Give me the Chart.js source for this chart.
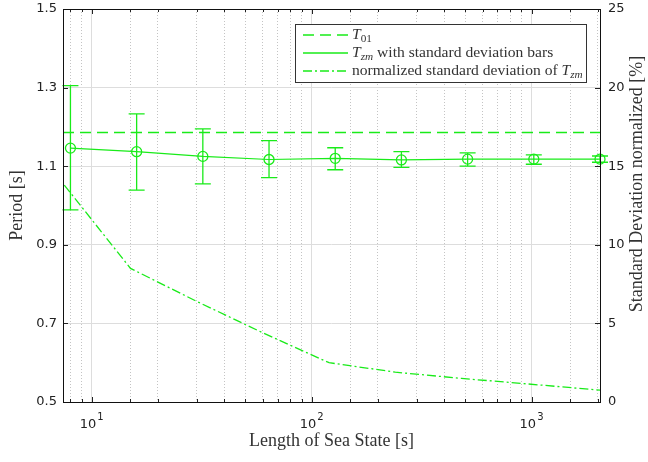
<!DOCTYPE html>
<html>
<head>
<meta charset="utf-8">
<script src="https://cdn.jsdelivr.net/npm/chart.js@4.4.0/dist/chart.umd.min.js"></script>
<style>
    html, body { margin: 0; padding: 0; background: #fff; }
</style>
</head>
<body>
<canvas id="grafico" width="648" height="462"></canvas>
<script>
// Window lengths (x) and the statistics
const lengths = [8, 16, 32, 64, 128, 256, 512, 1024, 2048];
const tzmMean = [1.146, 1.137, 1.125, 1.117, 1.120, 1.116, 1.118, 1.118, 1.118];
const tzmUpper = [1.305, 1.233, 1.195, 1.165, 1.147, 1.137, 1.134, 1.129, 1.126];
const tzmLower = [0.989, 1.039, 1.055, 1.071, 1.091, 1.097, 1.100, 1.105, 1.110];
const stdLengths = [7.5, 15, 30, 60, 120, 240, 480, 960, 2048];
const stdNorm = [13.8, 8.5, 6.4, 4.4, 2.5, 1.9, 1.5, 1.15, 0.75];
const t01 = 1.186;
const xRange = [7.4, 2048];
const periodTicks = [0.5, 0.7, 0.9, 1.1, 1.3, 1.5];
const stdTicks = [0, 5, 10, 15, 20, 25];
const xTickExp = { 10: '1', 100: '2', 1000: '3' };

const verde = 'rgb(25, 235, 25)';
const serif = '"Liberation Serif", "Times New Roman", serif';
const sans = '"DejaVu Sans", sans-serif';

// Legend entries: pieces of rich text (italic / subscript)
const legenda = [
    { dash: [11, 6], parts: [{ t: 'T', it: true }, { t: '01', sub: true }] },
    { dash: [], parts: [{ t: 'T', it: true }, { t: 'zm', it: true, sub: true }, { t: ' with standard deviation bars' }] },
    { dash: [9, 3, 2, 3], parts: [{ t: 'normalized standard deviation of ' }, { t: 'T', it: true }, { t: 'zm', it: true, sub: true }] }
];

function desenharTexto(ctx, parts, x, y, size) {
    parts.forEach(p => {
        const s = p.sub ? size * 0.72 : size;
        ctx.font = (p.it ? 'italic ' : '') + s + 'px ' + serif;
        ctx.fillText(p.t, x, p.sub ? y + size * 0.25 : y);
        x += ctx.measureText(p.t).width;
    });
}

// no extra label overhang: the plot box is placed by the fixed axis sizes
function semPadding(s) {
    s.paddingTop = 0; s.paddingBottom = 0; s.paddingLeft = 0; s.paddingRight = 0;
}

const extras = {
    id: 'extras',
    afterDatasetsDraw(chart) {
        const { ctx, scales } = chart;
        const x = scales.x, y = scales.y;
        // error bars
        ctx.save();
        ctx.strokeStyle = verde;
        ctx.lineWidth = 1.3;
        lengths.forEach((len, i) => {
            const px = x.getPixelForValue(len);
            const top = y.getPixelForValue(tzmUpper[i]);
            const bot = y.getPixelForValue(tzmLower[i]);
            ctx.beginPath();
            ctx.moveTo(px, top); ctx.lineTo(px, bot);
            ctx.moveTo(px - 8, top); ctx.lineTo(px + 8, top);
            ctx.moveTo(px - 8, bot); ctx.lineTo(px + 8, bot);
            ctx.stroke();
        });
        ctx.restore();
    },
    afterDraw(chart) {
        const { ctx, chartArea: a, scales } = chart;
        ctx.save();
        // inward tick marks
        ctx.strokeStyle = '#222';
        ctx.lineWidth = 1;
        ctx.beginPath();
        scales.x.ticks.forEach(t => {
            if (t.value <= xRange[0] || t.value >= xRange[1]) return;
            const px = Math.round(scales.x.getPixelForValue(t.value)) + 0.5;
            const len = xTickExp[t.value] ? 5 : 3;
            ctx.moveTo(px, a.bottom); ctx.lineTo(px, a.bottom - len);
            ctx.moveTo(px, a.top); ctx.lineTo(px, a.top + len);
        });
        periodTicks.forEach(v => {
            const py = Math.round(scales.y.getPixelForValue(v)) + 0.5;
            ctx.moveTo(a.left, py); ctx.lineTo(a.left + 5, py);
        });
        stdTicks.forEach(v => {
            const py = Math.round(scales.y2.getPixelForValue(v)) + 0.5;
            ctx.moveTo(a.right, py); ctx.lineTo(a.right - 5, py);
        });
        ctx.stroke();
        // box
        ctx.strokeStyle = '#111';
        ctx.strokeRect(Math.round(a.left) + 0.5, Math.round(a.top) + 0.5,
            Math.round(a.right - a.left), Math.round(a.bottom - a.top));

        // x tick labels 10^n with a real superscript
        ctx.fillStyle = '#222';
        ctx.textBaseline = 'alphabetic';
        ctx.textAlign = 'left';
        Object.keys(xTickExp).forEach(v => {
            const px = scales.x.getPixelForValue(Number(v));
            ctx.font = '13px ' + sans;
            const wBase = ctx.measureText('10').width;
            ctx.font = '10px ' + sans;
            const wExp = ctx.measureText(xTickExp[v]).width;
            const x0 = px - (wBase + wExp + 1) / 2;
            ctx.font = '13px ' + sans;
            ctx.fillText('10', x0, a.bottom + 26);
            ctx.font = '10px ' + sans;
            ctx.fillText(xTickExp[v], x0 + wBase + 1, a.bottom + 18);
        });

        // right axis title (reads bottom to top)
        ctx.fillStyle = '#333';
        ctx.font = '18px ' + serif;
        ctx.textAlign = 'center';
        ctx.textBaseline = 'middle';
        ctx.translate(637, 184);
        ctx.rotate(-Math.PI / 2);
        ctx.fillText('Standard Deviation normalized [%]', 0, 0);
        ctx.setTransform(1, 0, 0, 1, 0, 0);

        // legend
        const lx = 295, ly = 24, lw = 291, lh = 58;
        ctx.fillStyle = '#fff';
        ctx.fillRect(lx, ly, lw, lh);
        ctx.strokeStyle = '#333';
        ctx.strokeRect(lx + 0.5, ly + 0.5, lw, lh);
        ctx.textAlign = 'left';
        ctx.textBaseline = 'middle';
        legenda.forEach((item, i) => {
            const ry = ly + 11 + i * 18;
            ctx.strokeStyle = verde;
            ctx.lineWidth = 1.4;
            ctx.setLineDash(item.dash);
            ctx.beginPath();
            ctx.moveTo(lx + 8, ry); ctx.lineTo(lx + 53, ry);
            ctx.stroke();
            ctx.setLineDash([]);
            ctx.fillStyle = '#333';
            desenharTexto(ctx, item.parts, lx + 57, ry, 15.6);
        });
        ctx.restore();
    }
};

const grafico = new Chart(document.getElementById('grafico').getContext('2d'), {
    type: 'line',
    data: {
        datasets: [
            {
                label: 'T01',
                data: xRange.map(v => ({ x: v, y: t01 })),
                borderColor: verde,
                borderWidth: 1.5,
                borderDash: [11, 6],
                pointRadius: 0,
                yAxisID: 'y'
            },
            {
                label: 'Tzm with standard deviation bars',
                data: lengths.map((v, i) => ({ x: v, y: tzmMean[i] })),
                borderColor: verde,
                borderWidth: 1.2,
                pointStyle: 'circle',
                pointRadius: 5,
                pointBorderWidth: 1.3,
                pointBorderColor: verde,
                pointBackgroundColor: 'rgba(0,0,0,0)',
                clip: 10,
                yAxisID: 'y'
            },
            {
                label: 'normalized standard deviation of Tzm',
                data: stdLengths.map((v, i) => ({ x: v, y: stdNorm[i] })),
                borderColor: verde,
                borderWidth: 1.3,
                borderDash: [9, 3, 2, 3],
                pointRadius: 0,
                yAxisID: 'y2'
            }
        ]
    },
    options: {
        responsive: false,
        animation: false,
        layout: { padding: { top: 9, left: 0, right: 0, bottom: 0 } },
        plugins: {
            legend: { display: false },
            tooltip: { enabled: false }
        },
        scales: {
            x: {
                type: 'logarithmic',
                min: xRange[0],
                max: xRange[1],
                afterFit: s => { s.height = 60; semPadding(s); },
                grid: {
                    color: c => (c.tick && xTickExp[c.tick.value]) ? '#dddddd' : '#c4c4c4',
                    lineWidth: 1,
                    drawTicks: false
                },
                border: {
                    display: false,
                    dash: c => (c.tick && xTickExp[c.tick.value]) ? [] : [1, 2]
                },
                ticks: {
                    autoSkip: false,
                    maxRotation: 0,
                    padding: 9,
                    font: { family: sans, size: 13 },
                    callback: () => ''
                },
                title: {
                    display: true,
                    text: 'Length of Sea State [s]',
                    color: '#333',
                    font: { family: serif, size: 18 },
                    padding: { top: 0, bottom: 10 }
                }
            },
            y: {
                position: 'left',
                min: 0.5,
                max: 1.5,
                afterBuildTicks: s => { s.ticks = periodTicks.map(v => ({ value: v })); },
                afterFit: s => { s.width = 63; semPadding(s); },
                grid: { color: '#dddddd', drawTicks: false },
                border: { display: false },
                ticks: {
                    padding: 6,
                    color: '#222',
                    font: { family: sans, size: 13 },
                    callback: v => v.toFixed(1)
                },
                title: {
                    display: true,
                    text: 'Period [s]',
                    color: '#333',
                    font: { family: serif, size: 18 },
                    padding: { top: 6, bottom: 0 }
                }
            },
            y2: {
                position: 'right',
                min: 0,
                max: 25,
                afterBuildTicks: s => { s.ticks = stdTicks.map(v => ({ value: v })); },
                afterFit: s => { s.width = 48; semPadding(s); },
                grid: { drawOnChartArea: false, drawTicks: false },
                border: { display: false },
                ticks: {
                    padding: 8,
                    color: '#222',
                    font: { family: sans, size: 13 },
                    callback: v => String(v)
                }
            }
        }
    },
    plugins: [extras]
});
</script>
</body>
</html>
